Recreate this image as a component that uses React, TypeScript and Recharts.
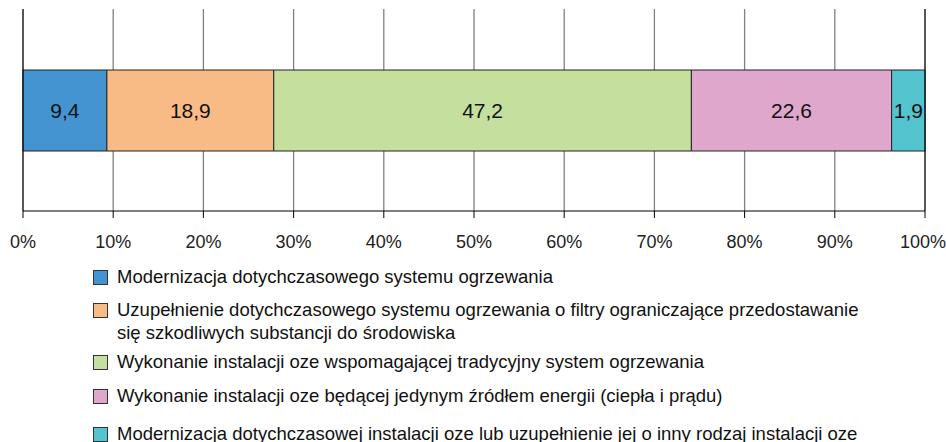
import { Bar, BarChart, CartesianGrid, LabelList, ReferenceLine, XAxis, YAxis } from "recharts";

const categories = [""];
const seriesNames = [
  "Modernizacja dotychczasowego systemu ogrzewania",
  "Uzupełnienie dotychczasowego systemu ogrzewania o filtry ograniczające przedostawanie\nsię szkodliwych substancji do środowiska",
  "Wykonanie instalacji oze wspomagającej tradycyjny system ogrzewania",
  "Wykonanie instalacji oze będącej jedynym źródłem energii (ciepła i prądu)",
  "Modernizacja dotychczasowej instalacji oze lub uzupełnienie jej o inny rodzaj instalacji oze",
];
// segment widths as drawn in the picture (%)
const seriesValues = [9.3, 18.5, 46.3, 22.2, 3.7];
// value labels printed on the segments
const valueLabels = ["9,4", "18,9", "47,2", "22,6", "1,9"];
const colors = ["#4394d1", "#f9bb86", "#c5df9f", "#dea7cb", "#54c4cf"];
const ticks = [0, 10, 20, 30, 40, 50, 60, 70, 80, 90, 100];

const data = categories.map((name) => {
  const row: Record<string, string | number> = { name };
  seriesValues.forEach((v, i) => (row["s" + i] = v));
  return row;
});

// top of each legend row
const legendTops = [265, 298, 350, 384, 422];

const font = "'Liberation Sans', Arial, sans-serif";

export default function App() {
  return (
    <div style={{ position: "absolute", left: 0, top: 0, width: 946, height: 442, background: "#fff", fontFamily: font }}>
      <BarChart
        width={946}
        height={260}
        data={data}
        layout="vertical"
        margin={{ top: 9, right: 21, left: 23, bottom: 0 }}
        barCategoryGap={0}
      >
        <CartesianGrid horizontal={false} stroke="#808080" strokeWidth={1.3} />
        <XAxis
          type="number"
          domain={[0, 100]}
          ticks={ticks}
          tickFormatter={(v) => `${v}%`}
          height={49}
          tickSize={7}
          tickMargin={17}
          stroke="#000"
          tick={{ fill: "#222", fontSize: 18, fontFamily: font }}
        />
        <YAxis type="category" dataKey="name" hide />
        <ReferenceLine x={0} stroke="#000" />
        <ReferenceLine x={100} stroke="#000" />
        {seriesValues.map((_, i) => (
          <Bar
            key={i}
            dataKey={"s" + i}
            stackId="a"
            fill={colors[i]}
            stroke="#222"
            strokeWidth={1}
            barSize={81}
            isAnimationActive={false}
          >
            <LabelList
              dataKey={"s" + i}
              position="center"
              formatter={() => valueLabels[i]}
              style={{ fill: "#111", fontSize: 21, fontFamily: font }}
            />
          </Bar>
        ))}
      </BarChart>
      {seriesNames.map((name, i) => (
        <div
          key={i}
          style={{ position: "absolute", left: 93, top: legendTops[i], display: "flex", alignItems: "flex-start", fontSize: 18.5, lineHeight: "23px", color: "#111" }}
        >
          <span
            style={{ display: "inline-block", width: 13, height: 13, marginTop: 5, background: colors[i], border: "1px solid #333", marginRight: 9, flexShrink: 0 }}
          />
          <span style={{ whiteSpace: "pre" }}>{name}</span>
        </div>
      ))}
    </div>
  );
}
